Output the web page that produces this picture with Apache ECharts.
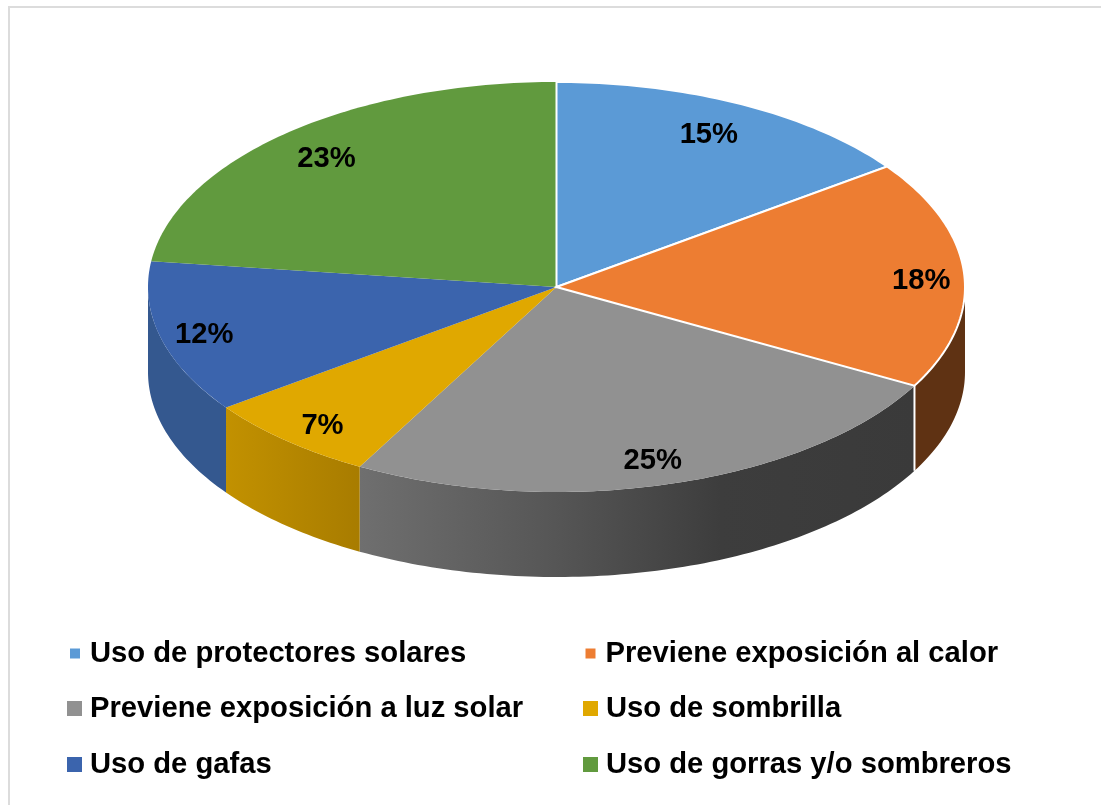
<!DOCTYPE html>
<html>
<head>
<meta charset="utf-8">
<style>
  html, body { margin: 0; padding: 0; background: #fff; }
  #chart { width: 1101px; height: 805px; }
</style>
<script src="https://cdn.jsdelivr.net/npm/echarts@6/dist/echarts.min.js"></script>
</head>
<body>
<div id="chart"></div>
<script>
// valores de la grafica
const categories = [
  'Uso de protectores solares',
  'Previene exposición al calor',
  'Previene exposición a luz solar',
  'Uso de sombrilla',
  'Uso de gafas',
  'Uso de gorras y/o sombreros',
];
const values = [15, 18, 25, 7, 12, 23];
const colors = ['#5b9ad6', '#ed7d32', '#919191', '#e0a800', '#3b64ad', '#619a3e'];
const wallColors = [
  null,
  [[0, '#5f3213'], [1, '#5f3213']],
  [[0, '#6f6f6f'], [0.35, '#565656'], [0.65, '#3d3d3d'], [1, '#3a3a3a']],
  [[0, '#c29100'], [1, '#a87c00']],
  [[0, '#34588f'], [1, '#34588f']],
  null,
];
const outlined = [true, true, false, false, false, false];

// geometria del disco
const cx = 556.5;
const cy = 287;
const rx = 408.5;
const ry = 205;
const depth = 85;
const labelRadius = 0.87;
const labelNudge = [[-9, 7], [10, 5], [-3, 3], [1, 5], [-8, 4], [5, 6]];

const total = values.reduce((a, b) => a + b, 0);
const starts = values.map((v, i) => values.slice(0, i).reduce((a, b) => a + b, 0));

function ellipsePoint(deg, dy) {
  const a = (deg * Math.PI) / 180;
  return [cx + rx * Math.sin(a), cy - ry * Math.cos(a) + (dy || 0)];
}

function arcPoints(from, to, dy) {
  const pts = [];
  const n = Math.max(2, Math.ceil(Math.abs(to - from)));
  for (let i = 0; i <= n; i++) {
    pts.push(ellipsePoint(from + ((to - from) * i) / n, dy));
  }
  return pts;
}

function renderSlice(i) {
  return function (params, api) {
    const from = (api.value(0) / total) * 360;
    const to = ((api.value(0) + api.value(1)) / total) * 360;
    const children = [];

    // cara lateral, solo la parte frontal
    const wallFrom = Math.max(from, 90);
    const wallTo = Math.min(to, 270);
    if (wallColors[i] && wallTo > wallFrom) {
      const top = arcPoints(wallFrom, wallTo, 0);
      const bottom = arcPoints(wallTo, wallFrom, depth);
      children.push({
        type: 'polygon',
        shape: { points: top.concat(bottom) },
        style: {
          fill: new echarts.graphic.LinearGradient(
            0, 0, 1, 0,
            wallColors[i].map((s) => ({ offset: s[0], color: s[1] }))
          ),
        },
      });
    }
    // linea blanca entre naranja y gris
    if (outlined[i] && wallTo > wallFrom) {
      const p = ellipsePoint(wallTo, 0);
      children.push({
        type: 'line',
        shape: { x1: p[0], y1: p[1], x2: p[0], y2: p[1] + depth },
        style: { stroke: '#fff', lineWidth: 2 },
      });
    }

    // cara superior
    children.push({
      type: 'polygon',
      shape: { points: [[cx, cy]].concat(arcPoints(from, to, 0)) },
      style: outlined[i]
        ? { fill: colors[i], stroke: '#fff', lineWidth: 2 }
        : { fill: colors[i] },
    });

    const mid = (from + to) / 2;
    const a = (mid * Math.PI) / 180;
    children.push({
      type: 'text',
      z2: 10,
      x: cx + rx * labelRadius * Math.sin(a) + labelNudge[i][0],
      y: cy - ry * labelRadius * Math.cos(a) + labelNudge[i][1],
      style: {
        text: api.value(1) + '%',
        fill: '#000',
        font: 'bold 29.2px "Liberation Sans", Arial, sans-serif',
        align: 'center',
        verticalAlign: 'middle',
      },
    });
    return { type: 'group', children };
  };
}

const legendPos = [
  { left: 70, top: 639, size: 10, gap: 5 },
  { left: 585.5, top: 639, size: 10, gap: 5 },
  { left: 67, top: 694, size: 15, gap: 3 },
  { left: 583, top: 694, size: 15, gap: 3 },
  { left: 67, top: 750, size: 15, gap: 3 },
  { left: 583, top: 750, size: 15, gap: 3 },
];

const chart = echarts.init(document.getElementById('chart'), null, { renderer: 'canvas' });
chart.setOption({
  animation: false,
  backgroundColor: '#fff',
  graphic: [
    { type: 'line', shape: { x1: 8, y1: 7, x2: 1101, y2: 7 }, style: { stroke: '#dcdcdc', lineWidth: 2 } },
    { type: 'line', shape: { x1: 9, y1: 6, x2: 9, y2: 805 }, style: { stroke: '#dcdcdc', lineWidth: 2 } },
  ],
  legend: categories.map((name, i) => ({
    data: [name],
    left: legendPos[i].left,
    top: legendPos[i].top,
    padding: 0,
    itemWidth: legendPos[i].size,
    itemHeight: legendPos[i].size,
    itemGap: 0,
    selectedMode: false,
    icon: 'rect',
    textStyle: {
      color: '#000',
      fontSize: 29.2,
      fontWeight: 'bold',
      fontFamily: '"Liberation Sans", Arial, sans-serif',
      padding: [0, 0, 0, legendPos[i].gap],
    },
  })),
  series: categories.map((name, i) => ({
    type: 'custom',
    name,
    coordinateSystem: 'none',
    silent: true,
    z: outlined[i] ? 3 : 2,
    itemStyle: { color: colors[i] },
    renderItem: renderSlice(i),
    data: [[starts[i], values[i]]],
  })),
});
</script>
</body>
</html>
